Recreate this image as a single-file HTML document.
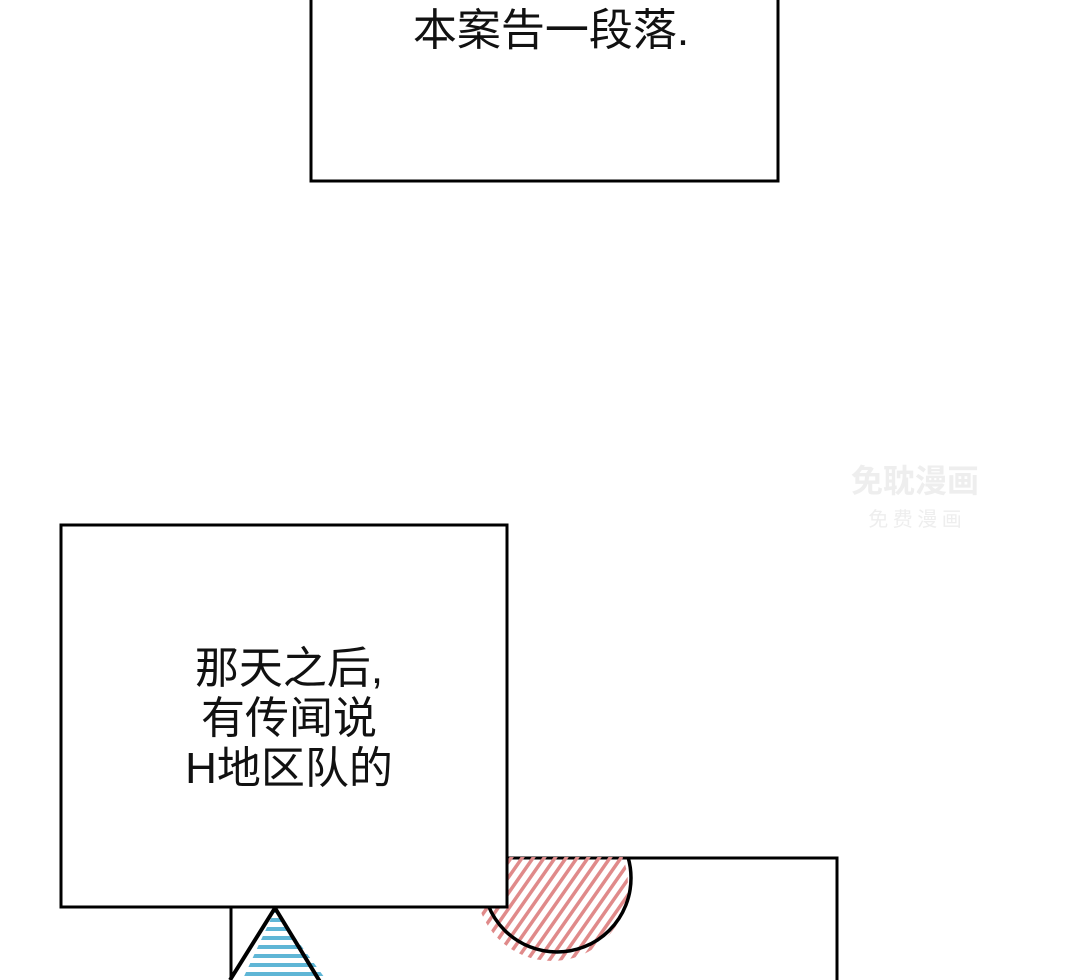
<!DOCTYPE html>
<html><head><meta charset="utf-8"><style>
body{margin:0;width:1080px;height:980px;background:#fff;overflow:hidden;position:relative;font-family:"Liberation Sans","Noto Sans CJK SC",sans-serif;}
.t{position:absolute;text-align:center;color:#111;font-size:44px;}
</style></head><body>
<svg width="1080" height="980" style="position:absolute;left:0;top:0">
<defs>
<pattern id="red" width="9" height="9" patternUnits="userSpaceOnUse" patternTransform="rotate(35)"><rect width="3.5" height="9" fill="#e08a8a"/></pattern>
<pattern id="blue" width="10" height="9" patternUnits="userSpaceOnUse"><rect width="10" height="4" fill="#5fb6d6"/></pattern>
<clipPath id="c"><rect x="0" y="857" width="1080" height="200"/></clipPath>
</defs>
<rect x="311" y="-5" width="467" height="186" fill="#fff" stroke="#000" stroke-width="3"/>
<rect x="231" y="858" width="606" height="140" fill="#fff" stroke="#000" stroke-width="3"/>
<g clip-path="url(#c)">
<circle cx="552" cy="885" r="76" fill="url(#red)"/>
<circle cx="557" cy="878" r="74" fill="none" stroke="#000" stroke-width="3.5"/>
</g>
<polygon points="275,910 240,985 330,985" fill="url(#blue)"/>
<polyline points="230,980 275,908 322,985" fill="none" stroke="#000" stroke-width="4"/>
<rect x="61" y="525" width="446" height="382" fill="#fff" stroke="#000" stroke-width="3"/>
<text x="915" y="492" font-size="32" font-weight="bold" fill="#eeeeee" text-anchor="middle" font-family="Noto Sans CJK SC">免耽漫画</text>
<text x="915" y="526" font-size="20" fill="#eeeeee" text-anchor="middle" font-family="Noto Sans CJK SC">免 费 漫 画</text>
</svg>
<div class="t" style="left:311px;width:480px;top:-6px;">本案告一段落.</div>
<div class="t" style="left:61px;width:456px;top:644px;line-height:50px;">那天之后,<br>有传闻说<br>H地区队的</div>
</body></html>
